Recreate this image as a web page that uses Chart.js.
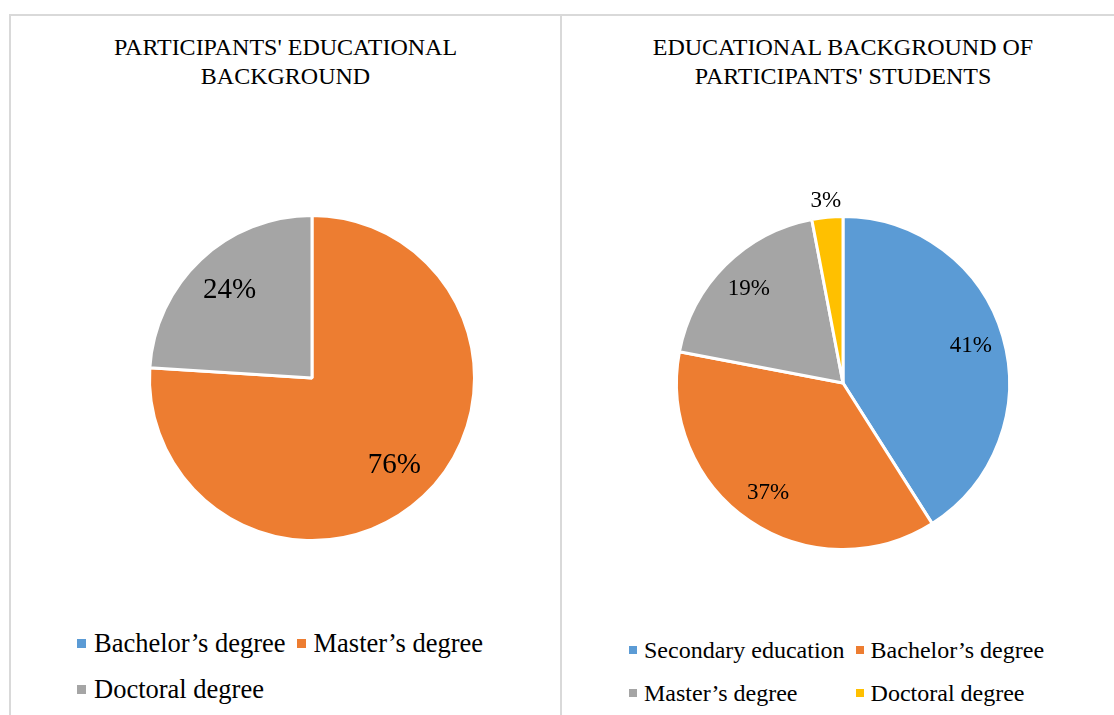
<!DOCTYPE html>
<html>
<head>
<meta charset="utf-8">
<title>Educational background</title>
<script src="https://cdn.jsdelivr.net/npm/chart.js@4.4.0/dist/chart.umd.min.js"></script>
<style>
  body { margin: 0; background: #fff; font-family: 'Liberation Serif', 'Times New Roman', serif; color: #000; }
  .panel { position: absolute; top: 14px; height: 720px; border: 2px solid #d9d9d9; box-sizing: border-box; }
  #panelLeft { left: 9px; width: 553px; }
  #panelRight { left: 560px; width: 566px; }
  .title { position: absolute; left: 0; right: 0; top: 16.5px; font-size: 24px; line-height: 29px; text-align: center; }
  .pie { position: absolute; }
  .legend { position: absolute; display: grid; grid-template-columns: auto auto; column-gap: 11px; }
  .legend .item { display: flex; align-items: center; white-space: nowrap; }
  .legend .box { display: inline-block; flex: none; }
</style>
</head>
<body>

<div class="panel" id="panelLeft"><div class="title" id="titleLeft"></div></div>
<div class="panel" id="panelRight"><div class="title" id="titleRight"></div></div>

<canvas class="pie" id="pieLeft" width="400" height="400" style="left:112px; top:178px;"></canvas>
<canvas class="pie" id="pieRight" width="400" height="400" style="left:643px; top:183px;"></canvas>

<div class="legend" id="legendLeft" style="left:77px; top:620px; font-size:26.5px; grid-auto-rows:46px;"></div>
<div class="legend" id="legendRight" style="left:629px; top:628.5px; font-size:24px; grid-auto-rows:43px;"></div>

<script>
// Participants themselves
const leftTitle = ["PARTICIPANTS' EDUCATIONAL", 'BACKGROUND'];
const leftLabels = ['Bachelor’s degree', 'Master’s degree', 'Doctoral degree'];
const leftValues = [0, 76, 24];
const leftColors = ['#5B9BD5', '#ED7D31', '#A5A5A5'];

// Their students
const rightTitle = ['EDUCATIONAL BACKGROUND OF', "PARTICIPANTS' STUDENTS"];
const rightLabels = ['Secondary education', 'Bachelor’s degree', 'Master’s degree', 'Doctoral degree'];
const rightValues = [41, 37, 19, 3];
const rightColors = ['#5B9BD5', '#ED7D31', '#A5A5A5', '#FFC000'];

const SERIF = '"Liberation Serif", "Times New Roman", serif';

// percentage text on each slice, small slices go outside the pie
const pctLabels = {
  id: 'pctLabels',
  afterDatasetsDraw(chart, args, opts) {
    const ctx = chart.ctx;
    const values = chart.data.datasets[0].data;
    ctx.save();
    ctx.font = opts.size + 'px ' + SERIF;
    ctx.fillStyle = '#000';
    ctx.textAlign = 'center';
    ctx.textBaseline = 'middle';
    chart.getDatasetMeta(0).data.forEach((arc, i) => {
      if (!values[i]) return;
      const p = arc.getProps(['x', 'y', 'startAngle', 'endAngle', 'outerRadius'], true);
      const mid = (p.startAngle + p.endAngle) / 2;
      const r = values[i] < 5 ? p.outerRadius + opts.outside : p.outerRadius * opts.inset;
      ctx.fillText(values[i] + '%', p.x + Math.cos(mid) * r, p.y + Math.sin(mid) * r);
    });
    ctx.restore();
  }
};

function makePie(id, labels, values, colors, radius, labelOpts) {
  return new Chart(document.getElementById(id), {
    type: 'pie',
    data: {
      labels: labels,
      datasets: [{
        data: values,
        backgroundColor: colors,
        borderColor: '#fff',
        borderWidth: 3
      }]
    },
    options: {
      responsive: false,
      animation: false,
      radius: radius,
      layout: { padding: 0 },
      plugins: {
        legend: { display: false },
        title: { display: false },
        tooltip: { enabled: false },
        pctLabels: labelOpts
      }
    },
    plugins: [pctLabels]
  });
}

function buildLegend(id, chart, boxSize) {
  const el = document.getElementById(id);
  chart.options.plugins.legend.labels.generateLabels(chart).forEach(item => {
    const row = document.createElement('div');
    row.className = 'item';
    const box = document.createElement('span');
    box.className = 'box';
    box.style.width = boxSize + 'px';
    box.style.height = boxSize + 'px';
    box.style.background = item.fillStyle;
    box.style.marginRight = (boxSize - 1) + 'px';
    row.appendChild(box);
    row.appendChild(document.createTextNode(item.text));
    el.appendChild(row);
  });
}

document.getElementById('titleLeft').innerHTML = leftTitle.join('<br>');
document.getElementById('titleRight').innerHTML = rightTitle.join('<br>');

// make sure the serif face is ready before the canvases paint their labels
Promise.all([
  document.fonts.load('29px ' + SERIF, '0123456789%'),
  document.fonts.load('23px ' + SERIF, '0123456789%')
]).catch(() => {}).then(() => {
  const leftChart = makePie('pieLeft', leftLabels, leftValues, leftColors, 162.5, { size: 29, inset: 0.74, outside: 16 });
  const rightChart = makePie('pieRight', rightLabels, rightValues, rightColors, 166.5, { size: 23, inset: 0.8, outside: 16 });

  buildLegend('legendLeft', leftChart, 9);
  buildLegend('legendRight', rightChart, 8);
});
</script>
</body>
</html>
